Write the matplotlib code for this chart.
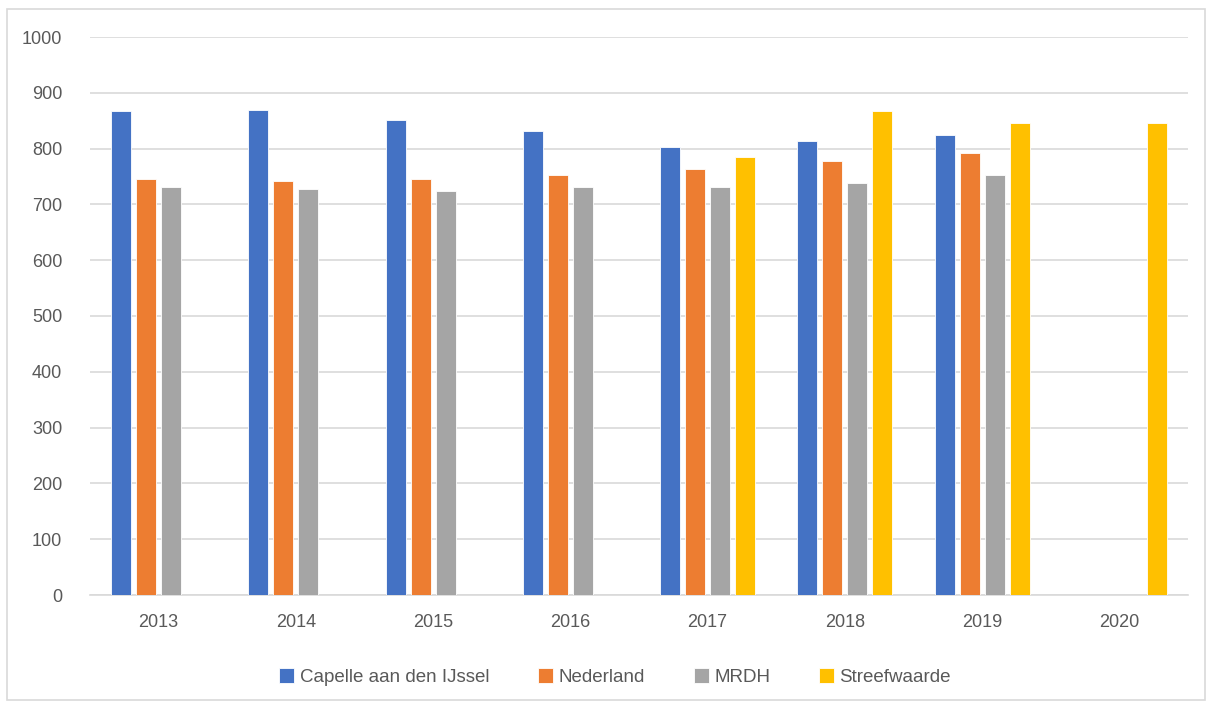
import numpy as np
import matplotlib
matplotlib.use("Agg")
import matplotlib.pyplot as plt
from matplotlib.patches import Rectangle

years = ["2013", "2014", "2015", "2016", "2017", "2018", "2019", "2020"]
capelle = [867, 870, 852, 831, 803, 813, 824, np.nan]
nederland = [746, 742, 746, 753, 763, 778, 792, np.nan]
mrdh = [731, 728, 724, 731, 731, 738, 753, np.nan]
streefwaarde = [np.nan, np.nan, np.nan, np.nan, 785, 867, 846, 846]

series = [
    ("Capelle aan den IJssel", capelle, "#4472C4"),
    ("Nederland", nederland, "#ED7D31"),
    ("MRDH", mrdh, "#A5A5A5"),
    ("Streefwaarde", streefwaarde, "#FFC000"),
]

plt.rcParams['font.family'] = ['Liberation Sans', 'DejaVu Sans']
fig = plt.figure(figsize=(12.12, 7.06), dpi=100)
ax = fig.add_axes([90/1212, 1-595/706, (1188-90)/1212, (595-37)/706])

x = np.arange(len(years))
step = 0.182
width = 0.146
offsets = (np.arange(len(series)) - 1.5) * step
for (name, vals, col), off in zip(series, offsets):
    v = np.array(vals, dtype=float)
    m = ~np.isnan(v)
    ax.bar(x[m] + off, v[m], width=width, color=col, label=name,
           edgecolor='white', linewidth=0.6, zorder=3)

ax.set_xlim(-0.5, len(years) - 0.5)
ax.set_ylim(0, 1000)
ax.set_yticks(np.arange(0, 1001, 100))
ax.set_xticks(x)
ax.set_xticklabels(years)
ax.yaxis.grid(True, color='#d9d9d9', linewidth=1.2, zorder=0)
for s in ['top', 'right', 'left']:
    ax.spines[s].set_visible(False)
ax.spines['bottom'].set_color('#d9d9d9')
ax.spines['bottom'].set_linewidth(1.2)
ax.tick_params(axis='both', length=0, colors='#595959', labelsize=13)
ax.tick_params(axis='y', pad=20)
ax.tick_params(axis='x', pad=14)

leg = fig.legend(loc='center', bbox_to_anchor=(615/1212, 1-677/706), ncol=4,
                 frameon=False, fontsize=13.5, handlelength=0.8, handleheight=0.8,
                 handletextpad=0.3, columnspacing=2.6, labelcolor='#595959')

fig.patches.append(Rectangle((7/1212, 1-700/706), 1198/1212, 691/706,
                             transform=fig.transFigure, fill=False,
                             edgecolor='#d9d9d9', linewidth=1.2))

fig.savefig("out.png", dpi=100)
